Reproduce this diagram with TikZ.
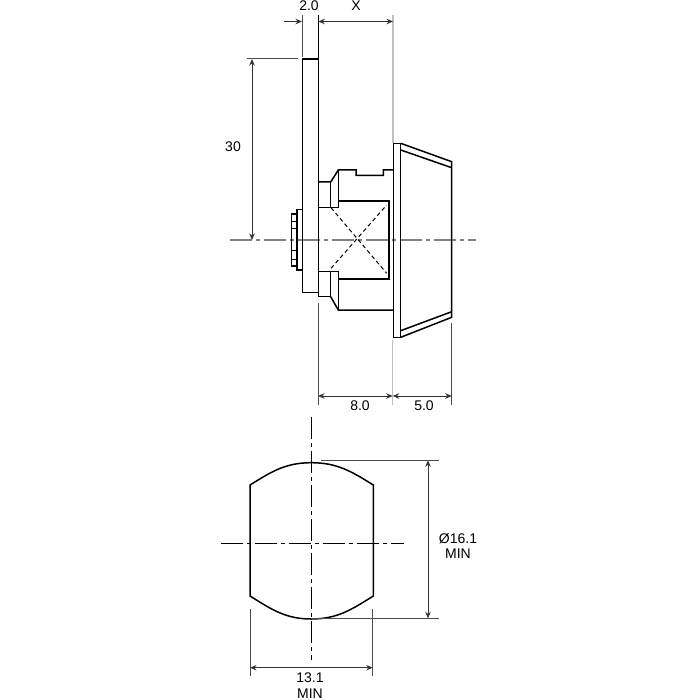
\documentclass[tikz,border=0pt]{standalone}
\usepackage{fontspec}
\setmainfont{Liberation Sans}
\usetikzlibrary{arrows.meta}
\tikzset{
	outline/.style={line width=1.5pt,line join=miter},
	dimline/.style={line width=1pt,black!80,{Stealth[length=6.5pt,width=5.5pt]}-{Stealth[length=6.5pt,width=5.5pt]}},
	dimone/.style={line width=1pt,black!80,-{Stealth[length=6.5pt,width=5.5pt]}},
	extline/.style={line width=1pt,black!70},
	extpale/.style={line width=1.2pt,black!25},
	hidden/.style={line width=1pt,dash pattern=on 4pt off 3pt},
	centreline/.style={line width=1pt,dash pattern=on 22pt off 4pt on 4pt off 4pt},
	dimtext/.style={inner sep=0pt,font=\fontsize{14}{15.5}\selectfont}
}
\begin{document}
\begin{tikzpicture}[x=1pt,y=-1pt]
	\useasboundingbox (0,0) rectangle (700,700);
	% side view, centre line first
	\draw [centreline,black!50,line width=1.2pt] (230,240) -- (476,240);
	% plate and nut
	\draw [outline] (318.3,59) -- (302.3,59) -- (302.3,292.7) -- (318.3,292.7);
	\draw [outline] (318.3,15) -- (318.3,296.7);
	\draw [outline] (302.3,209.3) -- (297,209.3) -- (297,270) -- (302.3,270);
	\draw [outline] (297,214) -- (291.7,214) -- (291.7,266) -- (297,266);
	\draw [line width=1pt] (291.7,221.7) -- (297,221.7);
	\draw [line width=1pt] (291.7,229) -- (297,229);
	\draw [line width=1pt] (291.7,251) -- (297,251);
	\draw [line width=1pt] (291.7,259) -- (297,259);
	% cam body
	\draw [outline] (318.3,182) -- (330.7,182) -- (338.3,170) -- (356,170) -- (356,175.3) -- (383.3,175.3) -- (383.3,170) -- (393.3,170);
	\draw [outline] (330.7,182) -- (330.7,207.7);
	\draw [outline] (318.3,207.7) -- (338.3,207.7) -- (338.3,170);
	\draw [outline] (338.3,201) -- (389,201) -- (389,279) -- (338.3,279);
	\draw [outline] (318.3,271.7) -- (338.3,271.7) -- (338.3,310);
	\draw [outline] (330.7,271.7) -- (330.7,296.7) -- (318.3,296.7);
	\draw [outline] (330.7,296.7) -- (338.3,310) -- (393.3,310);
	\draw [hidden] (331,207.7) -- (386.7,273.3);
	\draw [hidden] (331,268.3) -- (386.7,205);
	% knob
	\draw [outline] (393.3,143.3) rectangle (400.7,337.3);
	\draw [outline] (400.7,143.3) -- (451.7,161.7) -- (451.7,317.3) -- (400.7,337.3);
	\draw [outline] (400.7,150) -- (451.7,167.7);
	\draw [outline] (400.7,330.7) -- (451.7,311.7);
	% side view dimensions
	\draw [extline] (302.3,15) -- (302.3,57);
	\draw [extpale] (393,15) -- (393,143);
	\draw [extline] (246.7,59) -- (298,59);
	\draw [dimone] (284,21.5) -- (302,21.5);
	\draw [dimline] (318.3,21.5) -- (393,21.5);
	\draw [dimline] (252,59) -- (252,240);
	\node [dimtext] (dimplate) at (309,6) {2.0};
	\node [dimtext] (dimx) at (356,6) {X};
	\node [dimtext] (dimheight) at (233,147) {30};
	\draw [extline] (318,303) -- (318,405);
	\draw [extpale] (392.7,340) -- (392.7,405);
	\draw [extline] (451.7,323) -- (451.7,405);
	\draw [dimline] (318,396) -- (392.7,396);
	\draw [dimline] (392.7,396) -- (451.7,396);
	\node [dimtext] (dimbody) at (360,405.5) {8.0};
	\node [dimtext] (dimknob) at (424,405.5) {5.0};
	% cut-out view
	\draw [centreline] (311.3,417) -- (311.3,660);
	\draw [centreline] (221,543.3) -- (404,543.3);
	\draw [outline] (250,485) to [out=32,in=180] (311.3,462.7) to [out=0,in=148] (373.3,485) -- (373.3,596) to [out=-148,in=0] (311.3,619) to [out=180,in=-32] (250,596) -- cycle;
	\draw [extline] (320.7,460.3) -- (438.7,460.3);
	\draw [extline] (311.3,618.3) -- (438.7,618.3);
	\draw [dimline] (428,460.3) -- (428,618.3);
	\node [dimtext,align=center] (dimdia) at (458,546) {Ø16.1\\MIN};
	\draw [extline] (250,609) -- (250,676);
	\draw [extline] (372.7,609) -- (372.7,676);
	\draw [dimline] (250,667.7) -- (372.7,667.7);
	\node [dimtext,align=center] (dimwidth) at (310,685.5) {13.1\\MIN};
\end{tikzpicture}
\end{document}
